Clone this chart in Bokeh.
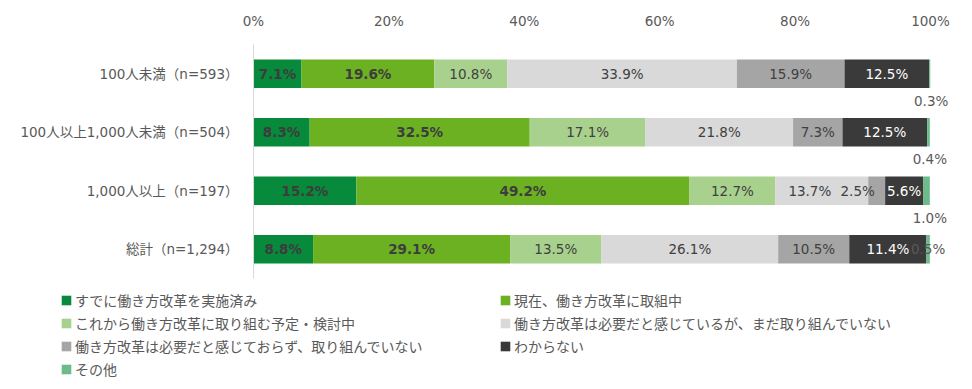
from bokeh.plotting import figure
from bokeh.models import ColumnDataSource, Legend, LegendItem, FactorRange, Range1d, FixedTicker
from bokeh.core.properties import value
from bokeh.embed import file_html
from bokeh.resources import INLINE

# ---------------- data ----------------
categories = ["100人未満（n=593）", "100人以上1,000人未満（n=504）", "1,000人以上（n=197）", "総計（n=1,294）"]
series_names = [
    "すでに働き方改革を実施済み",
    "現在、働き方改革に取組中",
    "これから働き方改革に取り組む予定・検討中",
    "働き方改革は必要だと感じているが、まだ取り組んでいない",
    "働き方改革は必要だと感じておらず、取り組んでいない",
    "わからない",
    "その他",
]
done_now = [7.1, 8.3, 15.2, 8.8]
in_progress = [19.6, 32.5, 49.2, 29.1]
planned = [10.8, 17.1, 12.7, 13.5]
needed_not_started = [33.9, 21.8, 13.7, 26.1]
not_needed = [15.9, 7.3, 2.5, 10.5]
unknown = [12.5, 12.5, 5.6, 11.4]
other = [0.3, 0.4, 1.0, 0.5]
x_ticks = [0, 20, 40, 60, 80, 100]
tick_labels = ["0%", "20%", "40%", "60%", "80%", "100%"]

series = [done_now, in_progress, planned, needed_not_started, not_needed, unknown, other]

# ---------------- style ----------------
colors = ["#078A3B", "#6CB122", "#A9D18E", "#D9D9D9", "#A5A5A5", "#3A3A3A", "#6DBA8A"]
label_colors = ["#3d3d3d", "#3d3d3d", "#404040", "#404040", "#404040", "#FFFFFF", "#595959"]
label_styles = ["bold", "bold", "normal", "normal", "normal", "normal", "normal"]
outside_rows_last = {0, 1, 2}          # rows whose "その他" label sits below the bar
label_nudge = {(2, 3): -12, (2, 4): -19}
FONT = "DejaVu Sans, Noto Sans CJK JP"

p = figure(
    width=972, height=284,
    y_range=FactorRange(factors=list(reversed(categories))),
    x_range=Range1d(0, 100),
    x_axis_location="above",
    output_backend="svg", toolbar_location=None,
    min_border_left=253, min_border_right=42, min_border_top=44, min_border_bottom=6,
)
p.outline_line_color = None
p.xgrid.visible = False
p.ygrid.visible = False

# legend host figure (its frame is the whole strip below the chart)
lp = figure(width=972, height=105, x_range=Range1d(0, 100),
            y_range=FactorRange(factors=list(reversed(categories))),
            x_axis_type=None, y_axis_type=None, output_backend="svg", toolbar_location=None,
            min_border=0)
lp.outline_line_color = None
lp.xgrid.visible = False
lp.ygrid.visible = False

proxies = []
lefts = [0.0] * len(categories)
for si, vals in enumerate(series):
    rights = [l + v for l, v in zip(lefts, vals)]
    src = ColumnDataSource(dict(y=categories, left=lefts, right=rights))
    p.hbar(y="y", left="left", right="right", height=0.49, source=src,
           fill_color=colors[si], line_color=None)
    # legend swatch carrier: same data, zero-height bars (only its colour shows, in the legend)
    proxies.append(lp.hbar(y="y", left="left", right="right", height=0, source=src,
                           fill_color=colors[si], line_color=None))

    xs, ys, txt, yoff = [], [], [], []
    for ri, v in enumerate(vals):
        if si == 6 and ri in outside_rows_last:
            xs.append(rights[ri]); yoff.append(27)
        else:
            xs.append((lefts[ri] + rights[ri]) / 2); yoff.append(0)
        ys.append(categories[ri])
        txt.append(f"{v:.1f}%")
    xoff = [label_nudge.get((ri, si), 0) for ri in range(len(vals))]
    lsrc = ColumnDataSource(dict(x=xs, y=ys, text=txt, xo=xoff, yo=yoff))
    p.text(x="x", y="y", text="text", source=lsrc, x_offset="xo", y_offset="yo",
           text_align="center", text_baseline="middle",
           text_font=value(FONT), text_font_size="13.5px",
           text_font_style=label_styles[si], text_color=label_colors[si],
           level="overlay")
    lefts = rights

# axes
xa = p.xaxis[0]
xa.ticker = FixedTicker(ticks=x_ticks)
xa.major_label_overrides = {t: l for t, l in zip(x_ticks, tick_labels)}
xa.axis_line_color = None
xa.major_tick_line_color = None
xa.minor_tick_line_color = None
xa.major_tick_out = 0
xa.major_tick_in = 0
xa.major_label_standoff = 16
xa.major_label_text_font = FONT
xa.major_label_text_font_size = "13.5px"
xa.major_label_text_color = "#595959"

ya = p.yaxis[0]
ya.axis_line_color = "#D9D9D9"
ya.major_tick_line_color = None
ya.minor_tick_line_color = None
ya.major_tick_out = 0
ya.major_tick_in = 0
ya.major_label_standoff = 15
ya.major_label_text_font = FONT
ya.major_label_text_font_size = "13.5px"
ya.major_label_text_color = "#595959"

# legend: two columns, filled column by column
legend_order = [0, 2, 4, 6, 1, 3, 5]
items = [LegendItem(label=series_names[i], renderers=[proxies[i]]) for i in legend_order]
lg = Legend(items=items, location=(60, 10), orientation="vertical", nrows=4,
            glyph_width=12, glyph_height=12, label_height=20, label_width=421,
            spacing=3, label_standoff=3, padding=0, margin=0,
            border_line_color=None, background_fill_alpha=0,
            label_text_font=FONT, label_text_font_size="14px",
            label_text_color="#595959")
lp.add_layout(lg, "center")

open("out.html", "w").write(file_html([p, lp], INLINE))
